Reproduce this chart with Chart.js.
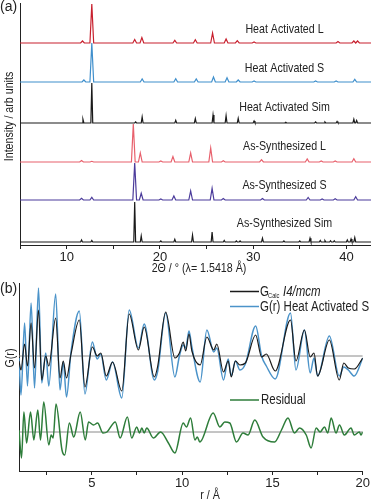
<!DOCTYPE html>
<html>
<head>
<meta charset="utf-8">
<script src="https://cdn.jsdelivr.net/npm/chart.js@4.4.1/dist/chart.umd.min.js"></script>
<style>
  html, body { margin: 0; padding: 0; background: #fff; overflow: hidden; }
  #wrap { position: relative; width: 371px; height: 500px; overflow: hidden; }
  canvas { position: absolute; left: 0; }
  #pxrd { top: 0; }
  #pdf { top: 278px; }
</style>
</head>
<body>
<div id="wrap">
  <canvas id="pxrd" width="371" height="280"></canvas>
  <canvas id="pdf" width="371" height="222"></canvas>
</div>
<script>
// ---- (a) PXRD patterns: peaks as [2theta, height], offsets stack the traces ----
const traceNames = ['Heat Activated L', 'Heat Activated S', 'Heat Activated Sim',
                    'As-Synthesized L', 'As-Synthesized S', 'As-Synthesized Sim'];
const traceBase = [202, 163, 122, 83, 45, 3];
const heatLPeaks = [[11.7, 2], [12.7, 39], [17.3, 3.5], [18.07, 5.5], [21.6, 2.7], [23.8, 3.3],
  [25.65, 10], [27.1, 4], [28.3, 2.3], [30.1, 1], [39.1, 1.5], [40.8, 2], [41.2, 2]];
const heatSPeaks = [[11.85, 2], [12.7, 39], [18.1, 3], [21.7, 3.3], [23.9, 3], [25.75, 5],
  [27.2, 4.3], [28.4, 2], [30.1, 1], [36.7, 1], [38.9, 1], [40.9, 2.7]];
const heatSimPeaks = [[11.75, 3.7], [12.7, 40], [17.4, 1], [18.1, 6], [21.7, 2.7], [23.8, 4.3],
  [25.7, 8], [27.1, 7.3], [28.4, 4.7], [30.1, 2], [33.5, 0.8], [36.7, 1], [37.7, 1], [39.0, 1.5],
  [40.8, 3.7], [41.1, 2.5]];
const asLPeaks = [[11.6, 1.5], [12.7, 0.7], [17.15, 38], [17.9, 9], [20.1, 1], [21.4, 5.5],
  [23.3, 9], [25.45, 14], [26.8, 1.2], [30.9, 2.3], [35.8, 3], [37.3, 1], [38.8, 1], [40.8, 3.3]];
const asSPeaks = [[11.6, 1.7], [12.7, 2.7], [17.3, 37], [18.0, 6.7], [20.1, 1], [21.5, 4],
  [23.3, 9], [25.6, 11.7], [26.8, 1.5], [31.0, 1.5], [35.9, 2.5], [37.4, 1], [38.8, 1.2], [41.0, 3.2]];
const asSimPeaks = [[11.6, 2], [12.7, 1.5], [17.3, 40], [18.0, 6], [20.1, 1], [21.6, 2.7],
  [23.5, 7], [25.6, 10], [26.9, 1.5], [28.2, 1], [28.6, 1], [31.0, 3.7], [33.3, 1], [35.0, 1],
  [36.1, 3.7], [37.2, 1.5], [37.7, 1.5], [38.3, 1.3], [38.7, 1.3], [40.1, 2], [40.5, 3], [40.9, 4.3]];
const twoThetaLabels = [10, 20, 30, 40];

// ---- (b) PDF: G(r) curves (extrema) and residual ----
const rG = [0.97, 1.08, 1.28, 1.44, 1.64, 1.83, 2.05, 2.23, 2.45, 2.62, 3.0, 3.24, 3.42, 3.6, 3.85,
  4.31, 4.62, 5.03, 5.3, 5.5, 5.8, 6.15, 6.66, 7.07, 7.58, 7.9, 8.46, 8.65, 9.09, 9.6, 9.85, 10.06,
  10.2, 10.38, 10.54, 11.0, 11.37, 11.75, 11.92, 12.29, 12.55, 12.72, 12.95, 13.2, 13.5, 14.07, 14.4,
  14.66, 15.15, 16.0, 16.3, 16.77, 17.09, 17.3, 17.5, 18.15, 18.7, 18.95, 19.2, 19.53, 20.0];
const gObs = [-2, -39, 33, -30, 53, -32, 68, -27, 3, -30, 62, -34, -6, -41, 4,
  45, -38, 14, -3, 2, -24, -6, -42, 46, 8, 32, -24, -15, 43, -21, 0, 11,
  8, 25, 9, -26, 26, 4, 8, -24, -3, -20, -5, -14, -8, 30, 0,
  -10, -23, 43, -14, 26, -17, -2, -20, 20, -20, -11, -14, -20, -2];
const gCalc = [-5, -14, 12, -10, 33, -12, 46, -24, 0, -10, 38, -22, -5, -22, 2,
  36, -31, 9, 0, 3, -20, -6, -35, 42, 6, 29, -21, -10, 44, -2, 3, 14,
  5, 22, 5, -9, 19, 6, 12, -16, -5, -21, -5, -9, -7, 21, -1,
  2, -15, 36, -5, 26, -1, 3, -20, 16, -24, -7, -12, -13, -2];
const rRes = [0.97, 1.11, 1.24, 1.39, 1.61, 1.79, 2.01, 2.16, 2.34, 2.62, 2.75, 2.86, 3.02, 3.35, 3.5,
  3.76, 4.0, 4.36, 4.64, 4.82, 5.1, 5.32, 5.62, 5.84, 6.3, 6.57, 6.97, 7.21, 7.49, 7.64, 7.77, 7.9,
  8.04, 8.41, 8.81, 9.24, 9.6, 10.06, 10.24, 10.47, 10.71, 10.84, 10.98, 11.72, 12.09, 12.36, 12.64,
  13.01, 13.37, 13.65, 14.02, 14.48, 15.12, 15.5, 15.86, 16.22, 16.5, 16.87, 17.14, 17.42, 17.64,
  17.88, 18.06, 18.25, 18.52, 18.71, 18.98, 19.35, 19.53, 19.81, 19.9, 20.0];
const gRes = [2, -26, 20, -11, 20, -8, 22, -8, 30, -13, -3, -6, 28, -18, -23,
  9, -5, 20, -8, 10, 7, 9, -1, 0, 10, -6, 15, -6, 5, -1, 4, -1,
  4, -6, 0, -11, -21, 9, 5, 14, -8, -5, -10, 19, 5, 10, 9,
  -10, -1, -3, 12, -5, -10, 2, 14, -1, 4, -3, -16, 4, 0,
  5, -1, 14, -1, 7, -3, 4, -3, 0, -3, 0];
const resOffset = -76;
const rLabels = [5, 10, 15, 20];

const FONT = '"Liberation Sans", Arial, sans-serif';
const INK = '#222';
const SQUEEZE = 0.82;   // the figure's lettering is condensed
Chart.defaults.font.family = FONT;
Chart.defaults.font.size = 13;
Chart.defaults.color = INK;

const TT_MIN = 5, TT_MAX = 42.64;

// peak list -> narrow triangular profile on a flat baseline
function pattern(peaks, base, hw) {
  const pts = [{x: TT_MIN, y: base}];
  peaks.forEach(([p, h]) => {
    pts.push({x: p - hw, y: base}, {x: p, y: base + h}, {x: p + hw, y: base});
  });
  pts.push({x: TT_MAX, y: base});
  return pts;
}

// condensed text helper
function narrowText(ctx, text, x, y, font, align, rot) {
  ctx.save();
  ctx.translate(x, y);
  if (rot) ctx.rotate(rot);
  ctx.scale(SQUEEZE, 1);
  ctx.font = font;
  ctx.textAlign = align || 'left';
  ctx.textBaseline = 'alphabetic';
  ctx.fillText(text, 0, 0);
  const w = ctx.measureText(text).width * SQUEEZE;
  ctx.restore();
  return w;
}

const traceColors = ['#c8202e', '#3f8fcc', '#1a1a1a', '#e8606c', '#4b3b9b', '#1a1a1a'];
const tracePeaks = [heatLPeaks, heatSPeaks, heatSimPeaks, asLPeaks, asSPeaks, asSimPeaks];
const traceWidth = [0.2, 0.2, 0.1, 0.2, 0.2, 0.1];

// trace labels, axis titles, panel tag
const pxrdText = {
  id: 'pxrdText',
  afterDraw(chart) {
    const ctx = chart.ctx;
    const labelY = [33, 72, 111, 150, 188.5, 226.5];
    ctx.save();
    ctx.fillStyle = INK;
    traceNames.forEach((name, i) => narrowText(ctx, name, 284.5, labelY[i], '13px ' + FONT, 'center'));
    narrowText(ctx, '2Θ / ° (λ= 1.5418 Å)', 199, 272, '13px ' + FONT, 'center');
    narrowText(ctx, 'Intensity / arb units', 12.5, 116.5, '13px ' + FONT, 'center', -Math.PI / 2);
    ctx.font = '14px ' + FONT;
    ctx.textAlign = 'left';
    ctx.fillText('(a)', 0, 11);
    ctx.restore();
  }
};

new Chart(document.getElementById('pxrd'), {
  type: 'line',
  data: {
    datasets: traceNames.map((name, i) => ({
      label: name,
      data: pattern(tracePeaks[i], traceBase[i], traceWidth[i]),
      borderColor: traceColors[i],
      borderWidth: 1.2,
      pointRadius: 0,
      tension: 0,
      fill: false
    }))
  },
  options: {
    responsive: false,
    animation: false,
    devicePixelRatio: 1,
    layout: { padding: { top: 3, left: 0, right: 0, bottom: 0 } },
    plugins: { legend: { display: false }, tooltip: { enabled: false } },
    scales: {
      x: {
        type: 'linear', min: TT_MIN, max: TT_MAX,
        ticks: {
          stepSize: 5, includeBounds: false, autoSkip: false, maxRotation: 0, padding: 1,
          color: INK,
          callback: v => twoThetaLabels.includes(Math.round(v)) && Math.abs(v - Math.round(v)) < 1e-6 ? String(Math.round(v)) : ''
        },
        grid: { drawOnChartArea: false, drawTicks: true, tickLength: 4, color: INK },
        border: { color: INK, width: 1 },
        afterFit(s) { s.height = 35; }
      },
      y: {
        min: 0, max: 242,
        ticks: { display: false },
        grid: { drawOnChartArea: false, drawTicks: false, color: INK },
        border: { color: INK, width: 1 },
        afterFit(s) { s.width = 20; }
      }
    }
  },
  plugins: [pxrdText]
});

// ---- (b) ----
const pdfText = {
  id: 'pdfText',
  afterDraw(chart) {
    const ctx = chart.ctx;
    ctx.save();
    ctx.fillStyle = INK;
    ctx.textBaseline = 'alphabetic';
    ctx.font = '14px ' + FONT;
    ctx.fillText('(b)', 0, 15);
    // legend
    ctx.lineWidth = 1.5;
    [[13.5, '#1a1a1a'], [28.5, '#4b93c9'], [122, '#2e7d3a']].forEach(([y, c]) => {
      ctx.strokeStyle = c;
      ctx.beginPath(); ctx.moveTo(230, y); ctx.lineTo(259, y); ctx.stroke();
    });
    const f = '14px ' + FONT;
    narrowText(ctx, 'G', 260, 17.5, f);
    narrowText(ctx, 'Calc', 268, 20, '7px ' + FONT);
    narrowText(ctx, 'I4/mcm', 283, 17.5, 'italic ' + f);
    narrowText(ctx, 'G(r) Heat Activated S', 260, 32.5, f);
    narrowText(ctx, 'Residual', 261, 126, f);
    // axis titles
    narrowText(ctx, 'r / Å', 210, 221, '13px ' + FONT, 'center');
    narrowText(ctx, 'G(r)', 14, 80, '13px ' + FONT, 'center', -Math.PI / 2);
    ctx.restore();
  }
};

const zeroLine = y => [{x: 0.97, y}, {x: 20, y}];
new Chart(document.getElementById('pdf'), {
  type: 'line',
  data: {
    datasets: [
      { label: 'G calc', data: rG.map((r, i) => ({x: r, y: gCalc[i]})), borderColor: '#1a1a1a', borderWidth: 1.2 },
      { label: 'G(r) Heat Activated S', data: rG.map((r, i) => ({x: r, y: gObs[i]})), borderColor: '#4b93c9' },
      { label: 'Residual', data: rRes.map((r, i) => ({x: r, y: gRes[i] + resOffset})), borderColor: '#2e7d3a' },
      { label: 'zero', data: zeroLine(0), borderColor: '#8a8a8a', borderWidth: 1 },
      { label: 'zero res', data: zeroLine(resOffset), borderColor: '#8a8a8a', borderWidth: 1 }
    ].map(d => Object.assign({ borderWidth: 1.5, pointRadius: 0, cubicInterpolationMode: 'monotone', fill: false }, d))
  },
  options: {
    responsive: false,
    animation: false,
    devicePixelRatio: 1,
    layout: { padding: { top: 5, left: 0, right: 7.5, bottom: 0 } },
    plugins: { legend: { display: false }, tooltip: { enabled: false } },
    scales: {
      x: {
        type: 'linear', min: 0.97, max: 20,
        ticks: {
          stepSize: 2.5, includeBounds: false, autoSkip: false, maxRotation: 0, padding: 1,
          color: INK,
          callback: v => rLabels.includes(v) ? String(v) : ''
        },
        grid: { drawOnChartArea: false, drawTicks: true, tickLength: 4, color: INK },
        border: { color: INK, width: 1 },
        afterFit(s) { s.height = 29; }
      },
      y: {
        min: -115, max: 73,
        ticks: { display: false },
        grid: { drawOnChartArea: false, drawTicks: false, color: INK },
        border: { color: INK, width: 1 },
        afterFit(s) { s.width = 19; }
      }
    }
  },
  plugins: [pdfText]
});
</script>
</body>
</html>
